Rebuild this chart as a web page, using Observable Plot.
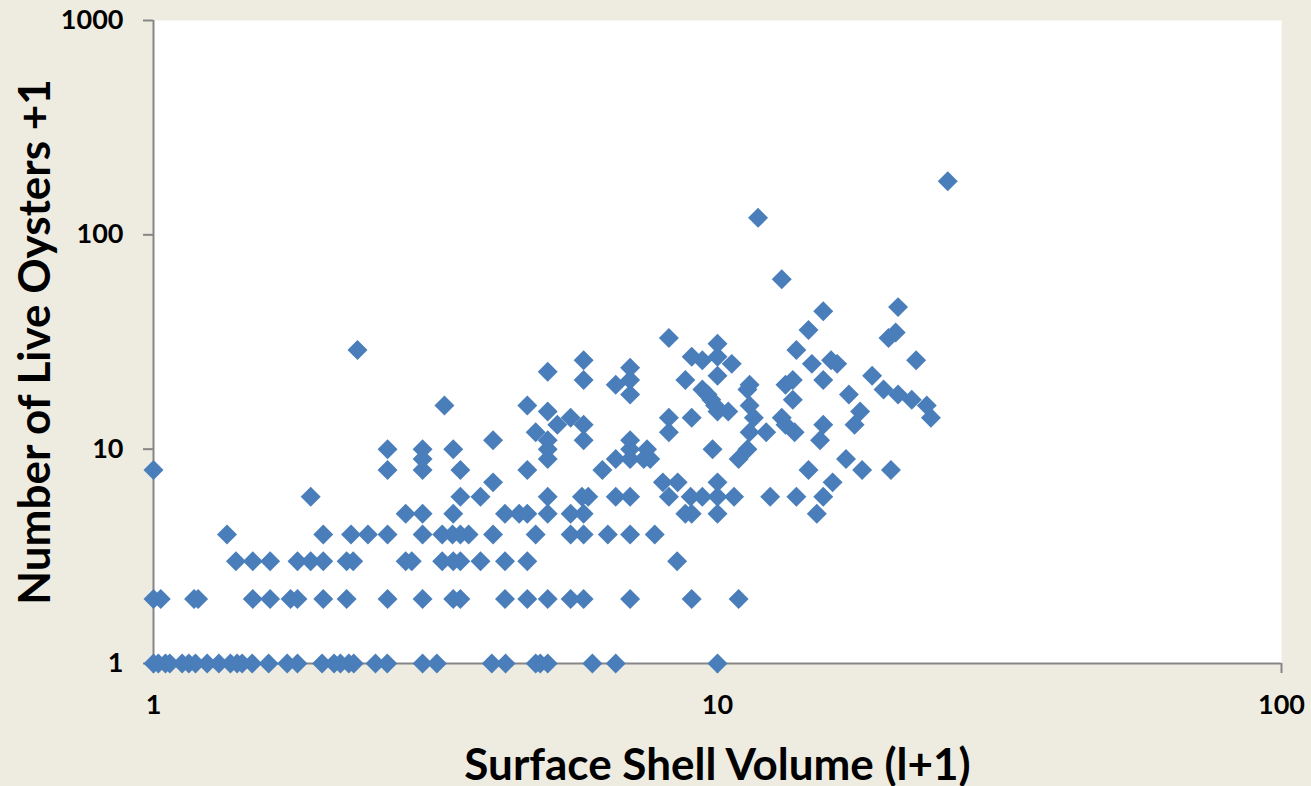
<!DOCTYPE html>
<html>
<head>
<meta charset="utf-8">
<script src="https://cdn.jsdelivr.net/npm/d3@7"></script>
<script src="https://cdn.jsdelivr.net/npm/@observablehq/plot@0.6"></script>
<style>
  html, body { margin: 0; padding: 0; background: #EEECE1; }
  #chart { width: 1311px; height: 786px; }
</style>
</head>
<body>
<div id="chart"></div>
<script>
// Number of live oysters +1 (y levels)
const oysterCounts = [1,2,3,4,5,6,7,8,9,10,11,12,13,14,15,16,17,18,19,20,21,22,23,24,25,26,27,29,31,33,35,36,44,46,62,120,178];
// Surface shell volume (l+1) of the samples at each y level, same order as oysterCounts
const shellVolumes = [
  [1.0, 1.02, 1.05, 1.069, 1.124, 1.155, 1.187, 1.245, 1.306, 1.369, 1.407, 1.436, 1.496, 1.60, 1.726, 1.80, 1.99, 2.09, 2.145, 2.22, 2.265, 2.475, 2.597, 3.0, 3.18, 3.98, 4.21, 4.76, 4.85, 5.0, 6.0, 6.6, 10.0],
  [1.0, 1.03, 1.18, 1.20, 1.50, 1.61, 1.75, 1.80, 2.0, 2.2, 2.6, 3.0, 3.4, 3.5, 4.2, 4.6, 5.0, 5.49, 5.79, 7.0, 9.0, 10.9],
  [1.40, 1.50, 1.61, 1.80, 1.90, 2.00, 2.20, 2.26, 2.80, 2.87, 3.25, 3.4, 3.5, 3.8, 4.2, 4.6, 8.48],
  [1.35, 2.0, 2.24, 2.4, 2.6, 3.0, 3.25, 3.39, 3.5, 3.62, 4.0, 4.76, 5.49, 5.79, 6.39, 7.0, 7.74],
  [2.8, 3.0, 3.4, 4.2, 4.45, 4.6, 5.0, 5.49, 5.79, 8.77, 9.0, 10.0, 15.0],
  [1.9, 3.5, 3.8, 5.0, 5.75, 5.9, 6.6, 7.0, 8.2, 8.96, 9.4, 10.0, 10.7, 12.4, 13.8, 15.4],
  [4.0, 8.0, 8.5, 10.0, 16.0],
  [1.0, 2.6, 3.0, 3.5, 4.6, 6.25, 14.5, 18.05, 20.3],
  [3.0, 5.0, 6.6, 7.0, 7.4, 7.6, 10.9, 16.9],
  [2.6, 3.0, 3.4, 5.0, 7.0, 7.5, 9.8, 11.3],
  [4.0, 5.0, 5.79, 7.0, 15.2],
  [4.76, 8.2, 11.4, 12.2, 13.7],
  [5.2, 5.79, 13.2, 15.4, 17.5],
  [5.49, 8.2, 9.0, 11.6, 13.0, 23.9],
  [5.0, 10.0, 10.45, 17.9],
  [3.28, 4.6, 9.9, 11.4, 23.5],
  [9.75, 13.6, 22.1],
  [7.0, 9.6, 17.1, 20.9],
  [9.4, 11.3, 19.7],
  [6.6, 11.4, 13.2],
  [5.79, 7.0, 8.77, 13.6, 15.4],
  [10.0, 18.8],
  [5.0],
  [7.0],
  [10.6, 14.7, 16.3],
  [5.79, 9.4, 15.9, 22.5],
  [9.0, 10.0],
  [2.3, 13.8],
  [10.0],
  [8.2, 20.1],
  [20.7],
  [14.5],
  [15.4],
  [20.9],
  [13.0],
  [11.8],
  [25.6]
];
const xTicks = [1, 10, 100];
const yTicks = [1, 10, 100, 1000];
const xTitle = "Surface Shell Volume (l+1)";
const yTitle = "Number of Live Oysters +1";

const points = [];
oysterCounts.forEach((y, i) => shellVolumes[i].forEach(x => points.push({x, y})));

const font = "Lato, 'Open Sans', sans-serif";
const axisGray = "#868686";

const chart = Plot.plot({
  width: 1311,
  height: 786,
  marginLeft: 153,
  marginRight: 30,
  marginTop: 20,
  marginBottom: 123,
  style: { background: "#EEECE1", fontFamily: font, overflow: "visible" },
  x: { type: "log", domain: [1, 100], axis: null },
  y: { type: "log", domain: [1, 1000], axis: null },
  marks: [
    Plot.frame({ fill: "white", stroke: null }),
    // tick marks
    Plot.axisX({ ticks: xTicks, tickSize: 10, tickFormat: () => "", stroke: axisGray, strokeWidth: 2, label: null }),
    Plot.axisY({ ticks: yTicks, tickSize: 10, tickFormat: () => "", stroke: axisGray, strokeWidth: 2, label: null }),
    // tick labels
    Plot.text(xTicks, { x: d => d, frameAnchor: "bottom", dy: 42, text: d => String(d), fontSize: 27, fontWeight: "bold", fill: "black", lineAnchor: "middle" }),
    Plot.text(yTicks, { y: d => d, frameAnchor: "left", dx: -30, text: d => String(d), fontSize: 27, fontWeight: "bold", fill: "black", textAnchor: "end", lineAnchor: "middle" }),
    // axis lines
    Plot.ruleY([1], { stroke: axisGray, strokeWidth: 2 }),
    Plot.ruleX([1], { stroke: axisGray, strokeWidth: 2 }),
    Plot.dot(points, { x: "x", y: "y", symbol: "diamond2", r: 9, fill: "#4A7EBB", stroke: "none" }),
    Plot.text([xTitle], { frameAnchor: "bottom", dy: 102, fontSize: 44, fontWeight: "bold", fill: "black", textAnchor: "middle", lineAnchor: "middle" }),
    Plot.text([yTitle], { frameAnchor: "left", dx: -118, rotate: -90, fontSize: 44, fontWeight: "bold", fill: "black", textAnchor: "middle", lineAnchor: "middle" })
  ]
});
document.getElementById("chart").appendChild(chart);
</script>
</body>
</html>
